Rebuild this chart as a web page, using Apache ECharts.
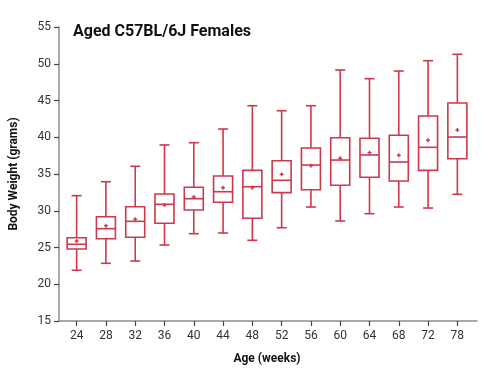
<!DOCTYPE html>
<html>
<head>
<meta charset="utf-8">
<script src="https://cdn.jsdelivr.net/npm/echarts@6/dist/echarts.min.js"></script>
<style>
html,body{margin:0;padding:0;background:#fff;}
#chart{width:494px;height:374px;}
</style>
</head>
<body>
<div id="chart"></div>
<script>
// Data
const categories = ['24','28','32','36','40','44','48','52','56','60','64','68','72','78'];
const whiskerLow  = [21.9, 22.85, 23.16, 25.34, 26.88, 26.97, 25.98, 27.69, 30.51, 28.61, 29.6, 30.51, 30.37, 32.24];
const q1          = [24.8, 26.2, 26.39, 28.29, 30.1, 31.15, 28.97, 32.46, 32.86, 33.46, 34.55, 34.05, 35.5, 37.08];
const medians     = [25.44, 27.56, 28.56, 30.88, 31.64, 32.59, 33.27, 34.14, 36.22, 36.9, 37.59, 36.63, 38.63, 40.03];
const q3          = [26.33, 29.19, 30.55, 32.28, 33.19, 34.73, 35.5, 36.81, 38.54, 39.94, 39.86, 40.27, 42.89, 44.66];
const whiskerHigh = [32.05, 33.95, 36.05, 38.95, 39.26, 41.12, 44.29, 43.61, 44.29, 49.15, 47.97, 49.01, 50.41, 51.29];
const means       = [25.88, 27.97, 28.84, 30.78, 31.87, 33.14, 33.14, 34.96, 36.13, 37.14, 37.9, 37.54, 39.59, 40.99];
const yTicks = {min: 15, max: 55, interval: 5};

const boxData = categories.map((c, i) => [i, whiskerLow[i], q1[i], medians[i], q3[i], whiskerHigh[i], means[i]]);

const RED = '#cc394c';
const AXIS = '#8c8c8c';
const FONT = 'Roboto';

function renderItem(params, api) {
  const i = api.value(0);
  const pLow = api.coord([i, api.value(1)]);
  const pQ1 = api.coord([i, api.value(2)]);
  const pMed = api.coord([i, api.value(3)]);
  const pQ3 = api.coord([i, api.value(4)]);
  const pHigh = api.coord([i, api.value(5)]);
  const pMean = api.coord([i, api.value(6)]);
  const x = pMed[0];
  const hw = 9.5, cw = 5;
  const st = {stroke: RED, lineWidth: 1.6, fill: null};
  return {
    type: 'group',
    children: [
      {type: 'rect', shape: {x: x - hw, y: pQ3[1], width: 2 * hw, height: pQ1[1] - pQ3[1]}, style: {stroke: RED, lineWidth: 1.6, fill: 'rgba(0,0,0,0)'}},
      {type: 'line', shape: {x1: x - hw, y1: pMed[1], x2: x + hw, y2: pMed[1]}, style: st},
      {type: 'line', shape: {x1: x, y1: pQ3[1], x2: x, y2: pHigh[1]}, style: st},
      {type: 'line', shape: {x1: x, y1: pQ1[1], x2: x, y2: pLow[1]}, style: st},
      {type: 'line', shape: {x1: x - cw, y1: pHigh[1], x2: x + cw, y2: pHigh[1]}, style: st},
      {type: 'line', shape: {x1: x - cw, y1: pLow[1], x2: x + cw, y2: pLow[1]}, style: st},
      {type: 'line', shape: {x1: x - 2, y1: pMean[1], x2: x + 2, y2: pMean[1]}, style: {stroke: RED, lineWidth: 1.4}},
      {type: 'line', shape: {x1: x, y1: pMean[1] - 2, x2: x, y2: pMean[1] + 2}, style: {stroke: RED, lineWidth: 1.4}}
    ]
  };
}

const chart = echarts.init(document.getElementById('chart'), null, {renderer: 'canvas'});
chart.setOption({
  animation: false,
  backgroundColor: '#fff',
  title: {
    text: 'Aged C57BL/6J Females',
    left: 68, top: 19,
    textStyle: {fontFamily: FONT, fontWeight: 'bold', fontSize: 16, color: '#111'}
  },
  grid: [
    {left: 57, right: 17, top: 27, bottom: 53},
    {left: 62, right: 22, top: 27, bottom: 53}
  ],
  xAxis: [
    {gridIndex: 0, type: 'value', min: 0, max: 1, axisLine: {show: true, lineStyle: {color: AXIS, width: 1.5}},
     axisTick: {show: false}, axisLabel: {show: false}, splitLine: {show: false}},
    {gridIndex: 1, type: 'category', data: categories, boundaryGap: true,
     axisLine: {show: false},
     axisTick: {show: true, alignWithLabel: true, length: 5, lineStyle: {color: '#444', width: 1.2}},
     axisLabel: {color: '#333', fontFamily: FONT, fontSize: 12, margin: 9},
     name: 'Age (weeks)', nameLocation: 'middle', nameGap: 32,
     nameTextStyle: {fontFamily: FONT, fontWeight: 'bold', fontSize: 12, color: '#111'},
     splitLine: {show: false}}
  ],
  yAxis: [
    {gridIndex: 0, type: 'value', min: yTicks.min, max: yTicks.max, interval: yTicks.interval,
     axisLine: {show: true, lineStyle: {color: AXIS, width: 1.5}},
     axisTick: {show: true, length: 5, lineStyle: {color: '#444', width: 1.2}},
     axisLabel: {color: '#333', fontFamily: FONT, fontSize: 12, margin: 8},
     name: 'Body Weight (grams)', nameLocation: 'middle', nameGap: 39,
     nameTextStyle: {fontFamily: FONT, fontWeight: 'bold', fontSize: 12, color: '#111'},
     splitLine: {show: false}},
    {gridIndex: 1, type: 'value', min: yTicks.min, max: yTicks.max, interval: yTicks.interval, show: false,
     splitLine: {show: false}}
  ],
  series: [{
    type: 'custom',
    xAxisIndex: 1, yAxisIndex: 1,
    data: boxData,
    encode: {x: 0, y: [1, 2, 3, 4, 5, 6]},
    renderItem: renderItem,
    clip: false
  }]
});
</script>
</body>
</html>
